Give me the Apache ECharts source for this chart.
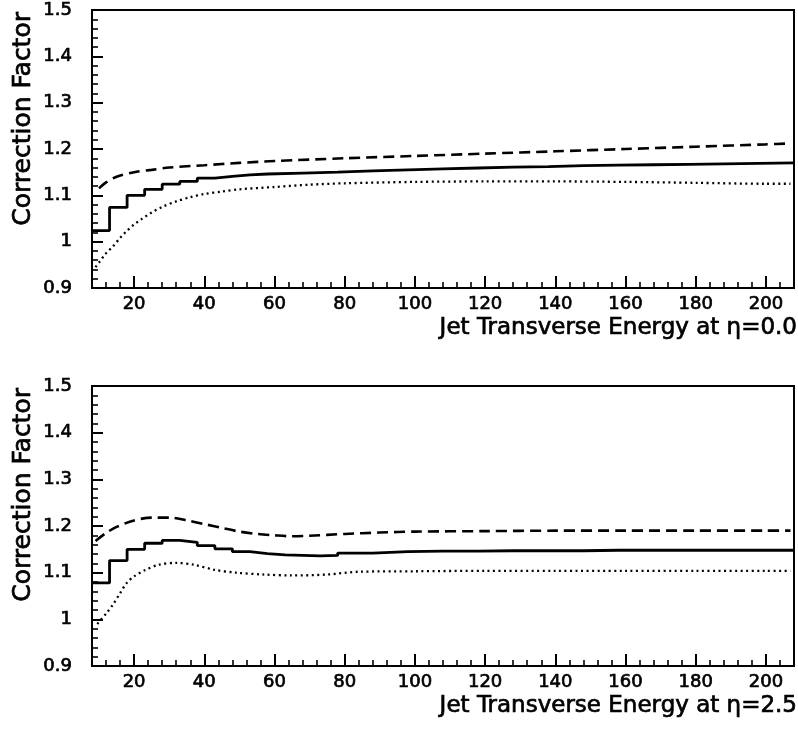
<!DOCTYPE html>
<html>
<head>
<meta charset="utf-8">
<script src="https://cdn.jsdelivr.net/npm/echarts@6/dist/echarts.min.js"></script>
<style>html,body{margin:0;padding:0;background:#fff}#c{width:798px;height:730px}</style>
</head>
<body>
<div id="c"></div>
<script>
// ---- tick values ----
const xMajorTicks = [20, 40, 60, 80, 100, 120, 140, 160, 180, 200];
const xMinorTicks = [8, 12, 16, 20, 24, 28, 32, 36, 40, 44, 48, 52, 56, 60, 64, 68, 72, 76, 80, 84, 88, 92, 96, 100, 104, 108, 112, 116, 120, 124, 128, 132, 136, 140, 144, 148, 152, 156, 160, 164, 168, 172, 176, 180, 184, 188, 192, 196, 200, 204, 208];
const panelTitles = ['Jet Transverse Energy at \u03B7=0.0', 'Jet Transverse Energy at \u03B7=2.5'];
const yTitle = 'Correction Factor';

// ---- eta = 0.0 ----
const top_solidX = [8, 13, 18, 23, 28, 33, 38, 43, 48, 53, 58, 68, 78, 88, 98, 108, 118, 128, 138, 148, 158, 168, 178, 188, 198, 208];
const top_solidY = [1.024, 1.074, 1.100, 1.113, 1.124, 1.130, 1.137, 1.141, 1.144, 1.146, 1.148, 1.150, 1.153, 1.155, 1.157, 1.159, 1.161, 1.162, 1.164, 1.165, 1.166, 1.167, 1.168, 1.169, 1.170, 1.170];
const top_dashX = [10, 12, 15, 20, 25, 30, 40, 50, 60, 80, 100, 120, 140, 160, 180, 200, 207];
const top_dashY = [1.115, 1.128, 1.140, 1.150, 1.155, 1.160, 1.165, 1.170, 1.174, 1.180, 1.185, 1.190, 1.195, 1.200, 1.205, 1.210, 1.212];
const top_dotX = [9, 10, 12, 14, 16, 18, 20, 22, 25, 28, 32, 36, 40, 45, 50, 60, 70, 80, 100, 120, 140, 160, 180, 200, 207];
const top_dotY = [0.945, 0.955, 0.975, 0.990, 1.008, 1.024, 1.037, 1.048, 1.063, 1.075, 1.087, 1.096, 1.103, 1.108, 1.113, 1.118, 1.123, 1.126, 1.129, 1.130, 1.130, 1.129, 1.127, 1.125, 1.125];

// ---- eta = 2.5 ----
const bot_solidX = [8, 13, 18, 23, 28, 33, 38, 43, 48, 53, 58, 63, 68, 73, 78, 88, 98, 108, 118, 128, 138, 148, 158, 168, 178, 188, 198, 208];
const bot_solidY = [1.078, 1.126, 1.150, 1.163, 1.169, 1.165, 1.158, 1.151, 1.145, 1.141, 1.138, 1.137, 1.136, 1.137, 1.142, 1.145, 1.146, 1.146, 1.147, 1.147, 1.147, 1.148, 1.148, 1.148, 1.148, 1.148, 1.148, 1.148];
const bot_dashX = [9, 12, 15, 20, 25, 30, 35, 40, 45, 50, 55, 60, 65, 70, 80, 90, 100, 120, 140, 160, 180, 200, 207];
const bot_dashY = [1.168, 1.185, 1.198, 1.212, 1.218, 1.218, 1.212, 1.204, 1.196, 1.188, 1.183, 1.180, 1.178, 1.179, 1.183, 1.186, 1.188, 1.189, 1.190, 1.190, 1.190, 1.190, 1.190];
const bot_dotX = [9.5, 12, 14, 16, 18, 20, 23, 27, 32, 37, 43, 49, 57, 65, 75, 84, 100, 120, 140, 160, 180, 200, 207];
const bot_dotY = [0.990, 1.012, 1.032, 1.056, 1.079, 1.092, 1.105, 1.117, 1.121, 1.117, 1.106, 1.100, 1.096, 1.094, 1.096, 1.102, 1.103, 1.104, 1.104, 1.104, 1.104, 1.104, 1.104];

const pairs = (xs, ys) => xs.map((x, i) => [x, ys[i]]);
const FONT = 'DejaVu Sans';
const grids = [
  {left: 92, top: 10, width: 702, height: 278},
  {left: 92, top: 386, width: 702, height: 280}
];
const labelStyle = {color: '#000', fontFamily: FONT, fontWeight: 'normal', fontSize: 18, textBorderColor: '#000', textBorderWidth: 0.7};

const xAxes = [], yAxes = [], series = [], graphics = [];
const panels = [
  {solid: pairs(top_solidX, top_solidY), dash: pairs(top_dashX, top_dashY), dot: pairs(top_dotX, top_dotY)},
  {solid: pairs(bot_solidX, bot_solidY), dash: pairs(bot_dashX, bot_dashY), dot: pairs(bot_dotX, bot_dotY)}
];

panels.forEach((p, g) => {
  xAxes.push({
    gridIndex: g, type: 'value', min: 8, max: 208,
    axisLine: {show: true, onZero: false, lineStyle: {color: '#000', width: 2}},
    axisTick: {show: true, inside: true, length: 12, customValues: xMajorTicks, lineStyle: {color: '#000', width: 2}},
    axisLabel: Object.assign({show: true, customValues: xMajorTicks, margin: 7}, labelStyle),
    splitLine: {show: false}
  });
  xAxes.push({
    gridIndex: g, type: 'value', min: 8, max: 208, position: 'bottom',
    axisLine: {show: false},
    axisTick: {show: true, inside: true, length: 6, customValues: xMinorTicks, lineStyle: {color: '#000', width: 1.6}},
    axisLabel: {show: false},
    splitLine: {show: false}
  });
  yAxes.push({
    gridIndex: g, type: 'value', min: 0.9, max: 1.5, interval: 0.1,
    axisLine: {show: true, onZero: false, lineStyle: {color: '#000', width: 2}},
    axisTick: {show: true, inside: true, length: 11, lineStyle: {color: '#000', width: 2}},
    minorTick: {show: true, splitNumber: 5, length: 6, lineStyle: {color: '#000', width: 1.6}},
    axisLabel: Object.assign({margin: 20}, labelStyle),
    splitLine: {show: false}
  });
  const xi = g * 2, yi = g;
  series.push({type: 'line', xAxisIndex: xi, yAxisIndex: yi, data: p.solid, step: 'end', showSymbol: false, symbol: 'none',
    lineStyle: {color: '#000', width: 2.8}});
  series.push({type: 'line', xAxisIndex: xi, yAxisIndex: yi, data: p.dash, smooth: 0.3, showSymbol: false, symbol: 'none',
    lineStyle: {color: '#000', width: 2.6, type: [11, 6]}});
  series.push({type: 'line', xAxisIndex: xi, yAxisIndex: yi, data: p.dot, smooth: 0.3, showSymbol: false, symbol: 'none',
    lineStyle: {color: '#000', width: 2.3, type: [2, 3.5]}});

  const gr = grids[g];
  graphics.push({type: 'text', x: 23, y: gr.top + 2, rotation: Math.PI / 2,
    style: {text: yTitle, align: 'right', verticalAlign: 'middle', fill: '#000', stroke: '#000', lineWidth: 0.7, font: '25px "DejaVu Sans"'}});
  graphics.push({type: 'text', x: 797, y: gr.top + gr.height + 40,
    style: {text: panelTitles[g], align: 'right', verticalAlign: 'middle', fill: '#000', stroke: '#000', lineWidth: 0.7, font: '23px "DejaVu Sans"'}});
});

const chart = echarts.init(document.getElementById('c'), null, {renderer: 'canvas'});
chart.setOption({
  animation: false,
  backgroundColor: '#fff',
  grid: grids.map(g => Object.assign({show: true, borderColor: '#000', borderWidth: 2, backgroundColor: 'transparent'}, g)),
  xAxis: xAxes,
  yAxis: yAxes,
  series: series,
  graphic: graphics
});
</script>
</body>
</html>
